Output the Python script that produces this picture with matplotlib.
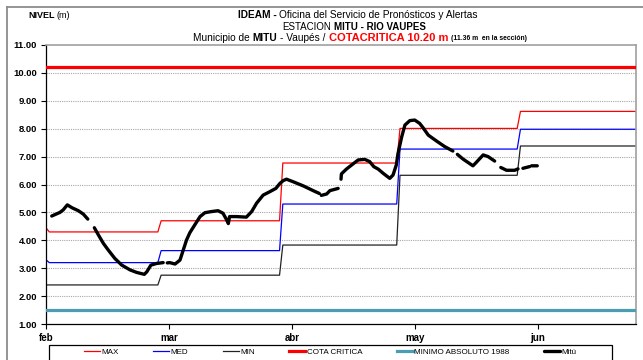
import numpy as np
import matplotlib
matplotlib.use("Agg")
from matplotlib import pyplot as plt
from matplotlib.lines import Line2D
from matplotlib.patches import Rectangle

plt.rcParams["font.family"] = ["Liberation Sans", "DejaVu Sans"]

W, H = 643, 360

# days counted from 1 Feb; ticks every 30 days
month_labels = ["feb", "mar", "abr", "may", "jun"]
month_ticks = [0, 30, 60, 90, 120]
x_end = 144

# day where each monthly level changes
level_breaks = [27.3, 57.0, 85.6, 115.0]
max_levels = [4.45, 4.30, 4.70, 6.77, 8.01, 8.62]
med_levels = [3.30, 3.20, 3.63, 5.30, 7.27, 7.98]
min_levels = [2.40, 2.40, 2.75, 3.83, 6.33, 7.38]

cota_critica = 10.20
minimo_absoluto = 1.50

# Mitú readings (day, level), None marks missing data
mitu_readings = [
    (1.4, 4.87), (3.4, 5.00), (4.2, 5.09), (5.2, 5.27), (6.3, 5.17), (7.9, 5.06),
    (9.1, 4.94), (10.2, 4.76),
    None,
    (11.8, 4.45), (12.8, 4.19), (14.0, 3.89), (15.2, 3.65), (16.8, 3.35), (18.5, 3.11),
    (20.5, 2.94), (22.1, 2.85), (24.0, 2.78), (24.6, 2.87), (25.6, 3.11), (27.0, 3.17),
    (28.6, 3.20),
    None,
    (29.6, 3.19), (30.2, 3.20), (31.5, 3.15), (32.7, 3.29), (33.5, 3.65), (34.3, 4.01),
    (35.1, 4.27), (36.3, 4.55), (37.6, 4.85), (38.8, 4.99), (40.4, 5.03), (42.0, 5.06),
    (43.2, 4.97), (44.1, 4.73), (44.5, 4.60), (44.8, 4.85), (46.5, 4.85), (48.9, 4.83),
    (50.2, 5.03), (51.4, 5.33), (53.0, 5.62), (54.6, 5.74), (56.1, 5.86), (57.1, 6.04),
    (57.9, 6.14), (58.7, 6.19), (60.3, 6.10), (62.8, 5.95), (65.2, 5.78), (66.7, 5.68),
    None,
    (67.2, 5.61), (68.5, 5.66), (69.3, 5.78), (71.3, 5.86),
    None,
    (72.0, 6.19), (72.1, 6.38), (73.3, 6.55), (74.6, 6.70), (76.2, 6.88), (77.8, 6.90),
    (79.0, 6.82), (80.0, 6.64), (81.1, 6.55), (82.3, 6.40), (83.9, 6.22), (84.7, 6.34),
    (85.5, 6.70), (85.9, 7.10), (86.8, 7.70), (87.6, 8.13), (88.8, 8.29), (90.0, 8.31),
    (91.2, 8.19), (92.0, 8.04), (93.3, 7.77), (95.3, 7.56), (97.3, 7.36), (99.3, 7.20),
    None,
    (100.4, 7.08), (101.8, 6.91), (104.2, 6.67), (105.0, 6.79), (106.7, 7.06),
    (107.9, 7.00), (109.5, 6.84),
    None,
    (111.0, 6.61), (112.4, 6.51), (114.4, 6.51), (115.2, 6.56),
    None,
    (116.4, 6.58), (118.0, 6.64),
    None,
    (118.5, 6.67), (119.9, 6.67),
]


def step_series(levels, breaks, ramp=0.8):
    # first level slides into the second right at the start
    xs = [0, ramp]
    ys = [levels[0], levels[1]]
    for b, lv in zip(breaks, levels[2:]):
        xs += [b, b + ramp]
        ys += [ys[-1], lv]
    xs.append(x_end)
    ys.append(ys[-1])
    return xs, ys


def readings_xy(readings):
    xs, ys = [], []
    for r in readings:
        if r is None:
            xs.append(np.nan)
            ys.append(np.nan)
        else:
            xs.append(r[0])
            ys.append(r[1])
    return np.array(xs), np.array(ys)


def rich_line(fig, pieces, xc, y, gap=2.6):
    # pieces: list of (text, kwargs); laid out left to right, centred on xc (px)
    texts = [fig.text(0, y, s, va="center", ha="left", **kw) for s, kw in pieces]
    r = fig.canvas.get_renderer()
    widths = [t.get_window_extent(r).width for t in texts]
    total = sum(widths) + gap * (len(widths) - 1)
    x = xc - total / 2
    for t, w in zip(texts, widths):
        t.set_x(x / W)
        x += w + gap
    return texts


fig = plt.figure(figsize=(W / 100, H / 100), dpi=100)
ax = fig.add_axes([46 / W, 1 - 324 / H, 590 / W, 279 / H])

ax.set_xlim(0, x_end)
ax.set_ylim(1, 11)
ax.set_yticks(np.arange(1, 12))
ax.set_yticklabels([f"{v:.2f}" for v in np.arange(1, 12)], fontweight="bold", fontsize=6.8)
ax.set_xticks(month_ticks)
ax.set_xticklabels(month_labels, fontweight="bold", fontsize=7.0)
ax.tick_params(axis="both", direction="out", length=3.5, width=0.8, pad=3)

for yv in range(2, 11):
    ax.axhline(yv, color="#a8a8a8", lw=0.8, ls=(0, (1, 1)), zorder=0)

ax.spines["left"].set_color("black")
ax.spines["bottom"].set_color("black")
ax.spines["left"].set_linewidth(0.9)
ax.spines["bottom"].set_linewidth(0.9)
ax.spines["top"].set_color("#a0a0a0")
ax.spines["right"].set_color("#a0a0a0")
ax.spines["top"].set_linewidth(1.2)
ax.spines["right"].set_linewidth(1.2)

mx, my = step_series(max_levels, level_breaks)
dx, dy = step_series(med_levels, level_breaks)
nx, ny = step_series(min_levels, level_breaks)
h_max, = ax.plot(mx, my, color="#ff0000", lw=0.9, label="MAX", zorder=2)
h_med, = ax.plot(dx, dy, color="#0000ff", lw=0.9, label="MED", zorder=2)
h_min, = ax.plot(nx, ny, color="#222222", lw=0.9, label="MIN", zorder=2)
h_cota = ax.axhline(cota_critica, color="#ff0000", lw=2.3, label="COTA CRITICA", zorder=3)
h_minabs = ax.axhline(minimo_absoluto, color="#4a9db3", lw=2.3,
                      label="MINIMO ABSOLUTO 1988", zorder=3)
tx, ty = readings_xy(mitu_readings)
h_mitu, = ax.plot(tx, ty, color="black", lw=2.4, solid_capstyle="round",
                  solid_joinstyle="round", label="Mitú", zorder=4)

# header
rich_line(fig, [("NIVEL", dict(fontsize=6.5, fontweight="bold")),
                ("(m)", dict(fontsize=6.5))], 49, 1 - 16 / H, gap=2.0)
rich_line(fig, [("IDEAM -", dict(fontsize=7.3, fontweight="bold")),
                ("Oficina del Servicio de Pronósticos y Alertas", dict(fontsize=7.3))],
          358, 1 - 15 / H)
rich_line(fig, [("ESTACION", dict(fontsize=7.0)),
                ("MITU - RIO VAUPES", dict(fontsize=7.0, fontweight="bold"))],
          354, 1 - 26.5 / H)
rich_line(fig, [("Municipio de", dict(fontsize=7.3)),
                ("MITU", dict(fontsize=7.3, fontweight="bold")),
                ("- Vaupés /", dict(fontsize=7.3)),
                ("COTACRITICA 10.20 m", dict(fontsize=8.0, fontweight="bold", color="#ff0000")),
                ("(11.36 m  en la sección)", dict(fontsize=4.9, fontweight="bold"))],
          360, 1 - 38 / H, gap=3.0)

# outer frame
fig.add_artist(Line2D([7 / W, 7 / W], [0, 1 - 7 / H], color="#8c8c8c", lw=1.3))
fig.add_artist(Line2D([7 / W, 1], [1 - 7 / H, 1 - 7 / H], color="#8c8c8c", lw=1.3))

# legend with its own box, running past the bottom edge
fig.add_artist(Rectangle((49 / W, -10 / H), 563 / W, 25 / H, transform=fig.transFigure,
                         fill=False, edgecolor="black", lw=0.9))
fig.legend(handles=[h_max, h_med, h_min, h_cota, h_minabs, h_mitu], ncol=6,
           loc="center", bbox_to_anchor=(330 / W, 1 - 352 / H), frameon=False,
           fontsize=5.8, handlelength=2.0, handletextpad=0.15, columnspacing=4.3,
           borderpad=0, borderaxespad=0)

fig.savefig("out.png", dpi=100)
